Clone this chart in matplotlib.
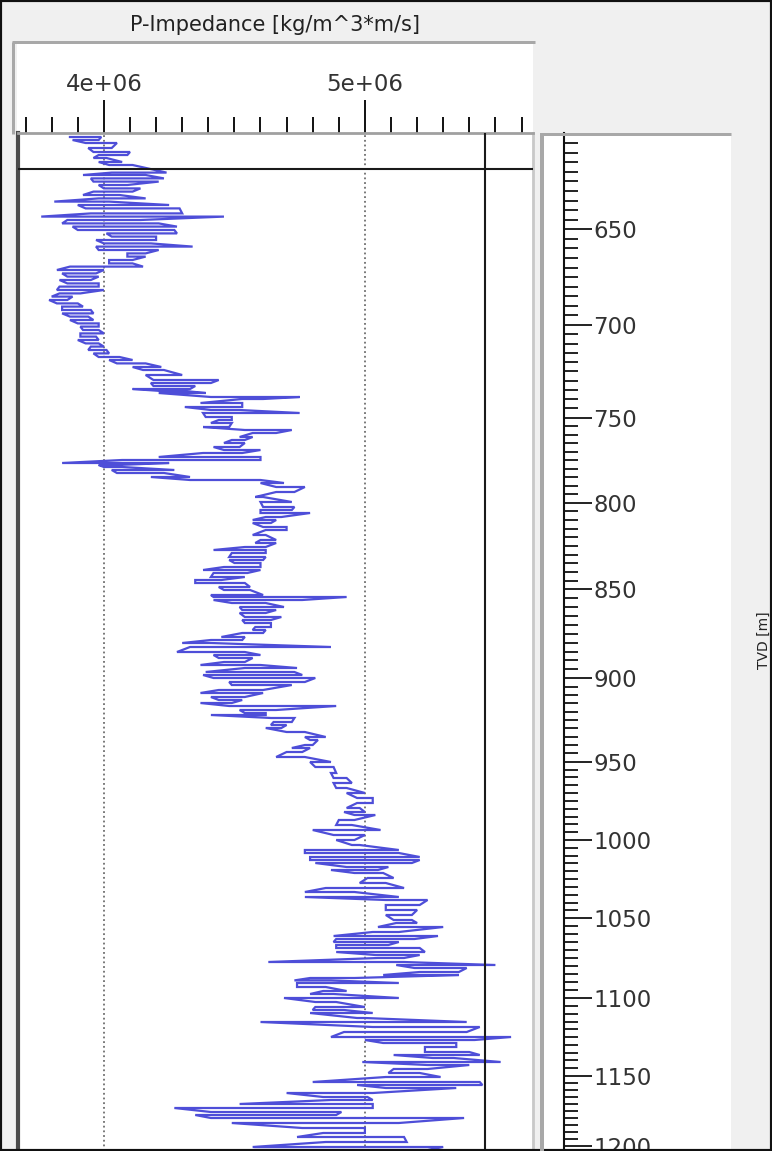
import numpy as np
import matplotlib
matplotlib.use("Agg")
import matplotlib.pyplot as plt
from matplotlib.patches import Rectangle
from matplotlib.lines import Line2D
from matplotlib.ticker import MultipleLocator

W, H = 772, 1151

# time-depth table: TVD (m) -> two-way time (ms); the track is displayed in time
TD_TVD = [600, 650, 700, 750, 800, 850, 900, 950, 1000, 1050, 1100, 1150, 1200, 1250]
TD_TWT = [566.8, 614.65, 662.5, 708.85, 751.35, 794.65, 839.15, 880.85, 920.0,
          959.15, 999.15, 1038.0, 1073.0, 1105.0]

# P-impedance log: low / high excursion of the trace per time row
# (values in 1e6 kg/m^3*m/s)
TWT_MS = [568.5, 570.0, 571.5, 574.0, 576.0, 577.5, 579.0, 581.0, 582.5, 586.3,
          587.5, 589.2, 590.8, 592.5, 594.2, 595.8, 597.5, 599.2, 600.8, 602.5,
          604.2, 606.7, 608.3, 610.0, 611.7, 613.3, 615.0, 616.7, 618.3, 620.0,
          621.7, 623.3, 625.0, 626.7, 628.3, 630.0, 631.7, 633.3, 635.0, 636.7,
          638.3, 640.0, 641.7, 643.3, 645.0, 646.7, 648.3, 650.0, 651.7, 653.3,
          655.0, 656.7, 658.3, 660.0, 661.7, 663.3, 665.0, 666.7, 668.3, 670.0,
          671.7, 673.3, 675.0, 676.7, 678.5, 680.0, 681.7, 683.5, 685.0, 687.5,
          690.0, 691.5, 693.0, 694.5, 695.5, 696.5, 698.5, 699.5, 701.5, 703.5,
          705.0, 706.5, 708.5, 710.0, 711.5, 713.5, 715.0, 716.5, 718.5, 720.0,
          721.5, 723.5, 725.0, 726.5, 728.5, 730.0, 731.5, 732.5, 733.5, 735.0,
          736.5, 738.5, 740.0, 741.5, 743.5, 746.0, 748.5, 751.0, 753.5, 755.0,
          756.5, 758.5, 760.0, 761.5, 763.5, 765.0, 767.5, 770.0, 771.5, 773.5,
          775.0, 776.5, 778.5, 780.0, 781.5, 783.5, 785.0, 786.5, 788.5, 790.0,
          791.5, 793.5, 795.0, 797.5, 798.5, 800.0, 801.5, 803.5, 805.0, 806.5,
          808.5, 810.0, 811.5, 813.5, 815.0, 816.5, 818.5, 820.0, 821.5, 823.5,
          826.0, 827.5, 829.0, 831.0, 832.5, 834.0, 836.0, 837.5, 839.0, 841.0,
          842.5, 845.0, 846.5, 848.5, 850.0, 851.5, 853.0, 855.0, 856.5, 857.5,
          859.0, 861.0, 862.5, 864.0, 866.0, 868.5, 870.0, 872.5, 874.0, 876.0,
          878.5, 881.0, 883.5, 886.5, 889.0, 891.5, 894.0, 896.5, 899.0, 901.5,
          904.0, 906.0, 907.5, 910.0, 912.5, 915.0, 917.5, 920.0, 922.5, 925.0,
          926.5, 928.5, 930.0, 931.5, 933.5, 935.0, 936.5, 939.0, 941.5, 944.0,
          946.0, 948.5, 950.0, 952.5, 955.0, 957.5, 960.0, 961.5, 963.5, 966.0,
          968.0, 969.5, 971.0, 972.5, 974.0, 976.0, 977.5, 979.0, 981.0, 982.5,
          984.0, 986.0, 987.5, 989.0, 990.2, 991.5, 993.5, 995.5, 997.0, 999.0,
          1001.0, 1003.5, 1005.0, 1006.5, 1009.0, 1011.0, 1013.5, 1016.0, 1018.5, 1020.0,
          1021.5, 1023.5, 1026.0, 1027.5, 1029.0, 1031.0, 1032.5, 1034.5, 1036.5, 1038.5,
          1041.0, 1042.5, 1044.0, 1046.5, 1048.5, 1050.0, 1052.0, 1054.0, 1056.0, 1057.5,
          1059.0, 1061.5, 1064.0, 1066.5, 1068.5, 1071.0, 1073.5, 1075.0]
IMP_LO = [3.87, 3.88, 3.93, 3.94, 3.96, 3.98, 3.96, 3.98, 4.02, 4.03,
          3.92, 3.95, 3.96, 3.98, 4.00, 3.96, 3.92, 3.98, 3.81, 3.90,
          3.93, 3.95, 3.76, 3.86, 3.84, 3.88, 3.90, 4.01, 4.03, 3.97,
          4.00, 3.97, 3.98, 4.09, 4.09, 4.02, 4.02, 3.87, 3.82, 3.84,
          3.86, 3.83, 3.86, 3.83, 3.82, 3.83, 3.80, 3.79, 3.82, 3.84,
          3.84, 3.84, 3.87, 3.87, 3.90, 3.91, 3.92, 3.91, 3.91, 3.90,
          3.93, 3.95, 3.94, 3.96, 3.98, 4.02, 4.05, 4.11, 4.15, 4.16,
          4.19, 4.18, 4.19, 4.11, 4.22, 4.21, 4.41, 4.53, 4.37, 4.31,
          4.41, 4.38, 4.39, 4.44, 4.41, 4.38, 4.54, 4.57, 4.52, 4.49,
          4.46, 4.42, 4.46, 4.38, 4.21, 4.07, 3.84, 3.98, 4.00, 4.03,
          4.05, 4.18, 4.33, 4.60, 4.66, 4.66, 4.58, 4.60, 4.61, 4.60,
          4.60, 4.62, 4.57, 4.57, 4.61, 4.62, 4.57, 4.60, 4.58, 4.54,
          4.42, 4.49, 4.48, 4.48, 4.50, 4.46, 4.38, 4.42, 4.41, 4.35,
          4.35, 4.44, 4.46, 4.41, 4.42, 4.42, 4.49, 4.52, 4.53, 4.52,
          4.54, 4.53, 4.54, 4.58, 4.57, 4.53, 4.45, 4.41, 4.30, 4.33,
          4.28, 4.42, 4.44, 4.46, 4.37, 4.54, 4.39, 4.38, 4.42, 4.48,
          4.49, 4.44, 4.37, 4.41, 4.44, 4.37, 4.48, 4.52, 4.54, 4.41,
          4.64, 4.65, 4.64, 4.62, 4.70, 4.77, 4.79, 4.77, 4.72, 4.70,
          4.66, 4.79, 4.81, 4.87, 4.88, 4.88, 4.89, 4.93, 4.97, 4.97,
          4.93, 4.92, 4.96, 4.90, 4.89, 4.80, 4.88, 4.89, 4.95, 4.77,
          4.77, 4.79, 4.79, 4.81, 4.93, 4.87, 4.96, 5.01, 4.98, 4.85,
          4.77, 4.77, 5.08, 5.08, 5.08, 5.08, 5.11, 5.12, 5.05, 5.03,
          4.88, 4.89, 4.88, 4.89, 4.89, 4.89, 5.04, 5.05, 4.63, 5.12,
          5.19, 5.21, 5.07, 4.79, 4.73, 4.74, 4.74, 4.84, 4.79, 4.69,
          4.81, 4.81, 4.80, 4.79, 4.97, 4.60, 5.03, 4.92, 4.87, 5.00,
          5.07, 5.23, 5.23, 5.11, 5.26, 4.99, 5.24, 5.11, 5.09, 5.08,
          4.80, 4.97, 5.08, 4.70, 4.84, 4.87, 4.52, 4.27, 4.41, 4.35,
          4.41, 4.49, 4.76, 4.84, 4.74, 4.85, 4.57, 4.58]
IMP_HI = [3.99, 3.98, 4.05, 4.03, 4.10, 4.09, 4.01, 4.07, 4.11, 4.24,
          4.16, 4.23, 4.21, 4.09, 4.14, 4.11, 4.06, 4.16, 4.02, 4.25,
          4.29, 4.30, 4.46, 4.14, 4.21, 4.28, 4.27, 4.28, 4.20, 4.20,
          4.18, 4.34, 4.21, 4.16, 4.16, 4.11, 4.11, 4.15, 4.00, 3.97,
          3.98, 3.95, 3.98, 3.98, 4.00, 3.91, 3.88, 3.86, 3.90, 3.92,
          3.95, 3.96, 3.94, 3.96, 3.98, 3.98, 3.98, 4.00, 3.97, 3.98,
          3.98, 4.00, 4.01, 4.02, 4.06, 4.11, 4.16, 4.22, 4.23, 4.30,
          4.44, 4.41, 4.35, 4.33, 4.31, 4.39, 4.75, 4.61, 4.53, 4.53,
          4.52, 4.75, 4.49, 4.49, 4.49, 4.48, 4.72, 4.66, 4.57, 4.54,
          4.54, 4.52, 4.60, 4.53, 4.60, 4.60, 4.25, 4.05, 4.07, 4.27,
          4.23, 4.33, 4.60, 4.69, 4.77, 4.73, 4.61, 4.72, 4.73, 4.72,
          4.79, 4.68, 4.66, 4.64, 4.70, 4.70, 4.62, 4.66, 4.66, 4.62,
          4.62, 4.62, 4.62, 4.61, 4.60, 4.60, 4.60, 4.55, 4.54, 4.45,
          4.54, 4.56, 4.56, 4.61, 4.93, 4.76, 4.62, 4.69, 4.66, 4.62,
          4.68, 4.64, 4.64, 4.64, 4.62, 4.61, 4.54, 4.53, 4.41, 4.87,
          4.54, 4.60, 4.57, 4.54, 4.60, 4.74, 4.73, 4.76, 4.81, 4.77,
          4.72, 4.61, 4.61, 4.54, 4.53, 4.49, 4.89, 4.66, 4.62, 4.62,
          4.73, 4.72, 4.70, 4.68, 4.77, 4.85, 4.82, 4.80, 4.79, 4.76,
          4.77, 4.87, 4.88, 4.89, 4.93, 4.95, 4.93, 5.00, 5.03, 5.03,
          4.98, 5.00, 5.04, 4.96, 4.95, 5.06, 5.00, 4.96, 4.98, 5.13,
          5.13, 5.21, 5.21, 5.18, 5.09, 5.05, 5.07, 5.11, 5.08, 5.15,
          4.96, 5.13, 5.24, 5.21, 5.20, 5.18, 5.18, 5.20, 5.30, 5.13,
          5.28, 5.19, 5.13, 5.09, 5.21, 5.23, 5.21, 5.15, 5.15, 5.50,
          5.39, 5.36, 5.36, 4.96, 4.87, 5.13, 4.85, 4.93, 4.88, 5.13,
          4.89, 5.00, 4.92, 5.03, 5.00, 5.39, 5.44, 5.39, 5.56, 5.42,
          5.35, 5.35, 5.40, 5.44, 5.34, 5.52, 5.40, 5.24, 5.21, 5.29,
          5.44, 5.45, 5.35, 5.03, 5.01, 5.03, 5.03, 5.03, 4.91, 4.89,
          5.38, 5.13, 5.00, 5.00, 5.15, 5.16, 5.30, 5.24]

GRID_X = [4.0e6, 5.0e6]
GRID_LABELS = ["4e+06", "5e+06"]
CUTOFF_X = 5.46e6          # solid vertical reference line
MARKER_TWT = 584.5         # horizontal marker line near the top
XLIM = (3.671e6, 5.644e6)
YLIM = (1075.5, 566.5)
TVD_MAJOR = list(range(650, 1201, 50))
TVD_MINOR = [d for d in range(605, 1201, 5) if d % 50 != 0]

BG = "#F0F0F0"
CURVE = "#4E4ED8"


def fx(px):
    return px / W


def fy(py):
    return 1 - py / H


def fig_line(fig, x0, y0, x1, y1, color, lw_px):
    fig.add_artist(Line2D([fx(x0), fx(x1)], [fy(y0), fy(y1)], transform=fig.transFigure,
                          color=color, linewidth=lw_px * 0.72, solid_capstyle="butt"))


fig = plt.figure(figsize=(W / 100, H / 100), dpi=100, facecolor=BG)

# header box (white, sunken border)
fig.add_artist(Rectangle((fx(17), fy(133)), 516 / W, 91 / H, transform=fig.transFigure,
                         facecolor="white", edgecolor="none", zorder=0))
fig_line(fig, 12, 42, 535, 42, "#A8A8A8", 3)
fig_line(fig, 13, 42, 13, 134, "#A8A8A8", 3)

# depth panel background
fig.add_artist(Rectangle((fx(541), 0), 190 / W, (H - 133) / H, transform=fig.transFigure,
                         facecolor="white", edgecolor="none", zorder=0))
fig_line(fig, 542, 133, 542, H, "#A8A8A8", 4)
fig_line(fig, 540, 134, 731, 134, "#A8A8A8", 3)

fig.text(fx(275), fy(25), "P-Impedance [kg/m^3*m/s]", ha="center", va="center",
         fontsize=15, color="#222222")
fig.text(fx(764), fy(640), "TVD [m]", ha="center", va="center", rotation=90,
         fontsize=10, color="#222222")

# ---------- log track ----------
ax = fig.add_axes([fx(18), 0, 515 / W, (H - 133) / H])
ax.set_facecolor("white")

twt = np.asarray(TWT_MS)
lo = np.asarray(IMP_LO) * 1e6
hi = np.asarray(IMP_HI) * 1e6
# each row drawn as a horizontal excursion, alternating direction
odd = np.arange(len(twt)) % 2 == 1
first = np.where(odd, hi, lo)
second = np.where(odd, lo, hi)
xs = np.column_stack([first, second]).ravel()
ys = np.repeat(twt, 2)
ax.plot(xs, ys, color=CURVE, linewidth=1.6, zorder=3, solid_joinstyle="miter")

for g in GRID_X:
    ax.axvline(g, color="#6E6E6E", linewidth=1.3, linestyle=(0, (1, 1.6)), zorder=2)
ax.axvline(CUTOFF_X, color="#1A1A1A", linewidth=1.5, zorder=4)
ax.axhline(MARKER_TWT, color="#1A1A1A", linewidth=1.5, zorder=4)

ax.set_xlim(*XLIM)
ax.set_ylim(*YLIM)
ax.set_yticks([])
ax.set_xticks(GRID_X)
ax.set_xticklabels(GRID_LABELS)
ax.xaxis.set_minor_locator(MultipleLocator(1e5))
ax.xaxis.tick_top()
ax.tick_params(axis="x", which="major", direction="out", length=23.5, width=1.4,
               pad=3, labelsize=16.5, labelcolor="#333333", color="#111111")
ax.tick_params(axis="x", which="minor", direction="out", length=11.5, width=1.4,
               color="#111111")
ax.spines["bottom"].set_visible(False)
ax.spines["top"].set_color("#A0A0A0")
ax.spines["top"].set_linewidth(2.0)
ax.spines["left"].set_color("#4A4A4A")
ax.spines["left"].set_linewidth(3.0)
ax.spines["right"].set_color("#C8C8C8")
ax.spines["right"].set_linewidth(2.0)

# ---------- depth track ----------
ax2 = fig.add_axes([fx(545), 0, 19 / W, (H - 133) / H])
ax2.set_facecolor("none")
ax2.set_ylim(*YLIM)
ax2.set_xticks([])
for s in ["left", "top", "bottom"]:
    ax2.spines[s].set_visible(False)
ax2.spines["right"].set_color("#111111")
ax2.spines["right"].set_linewidth(1.5)
ax2.yaxis.tick_right()
ax2.set_yticks(np.interp(TVD_MAJOR, TD_TVD, TD_TWT))
ax2.set_yticklabels([str(d) for d in TVD_MAJOR])
ax2.set_yticks(np.interp(TVD_MINOR, TD_TVD, TD_TWT), minor=True)
ax2.tick_params(axis="y", which="major", direction="out", length=20, width=1.3,
                pad=1, labelsize=16.5, labelcolor="#333333", color="#111111")
ax2.tick_params(axis="y", which="minor", direction="out", length=10, width=1.3,
                color="#111111")

# screenshot frame
fig.add_artist(Rectangle((0, 0), 1, 1, transform=fig.transFigure, fill=False,
                         edgecolor="#111111", linewidth=3))

fig.savefig("out.png", dpi=100, facecolor=BG)
